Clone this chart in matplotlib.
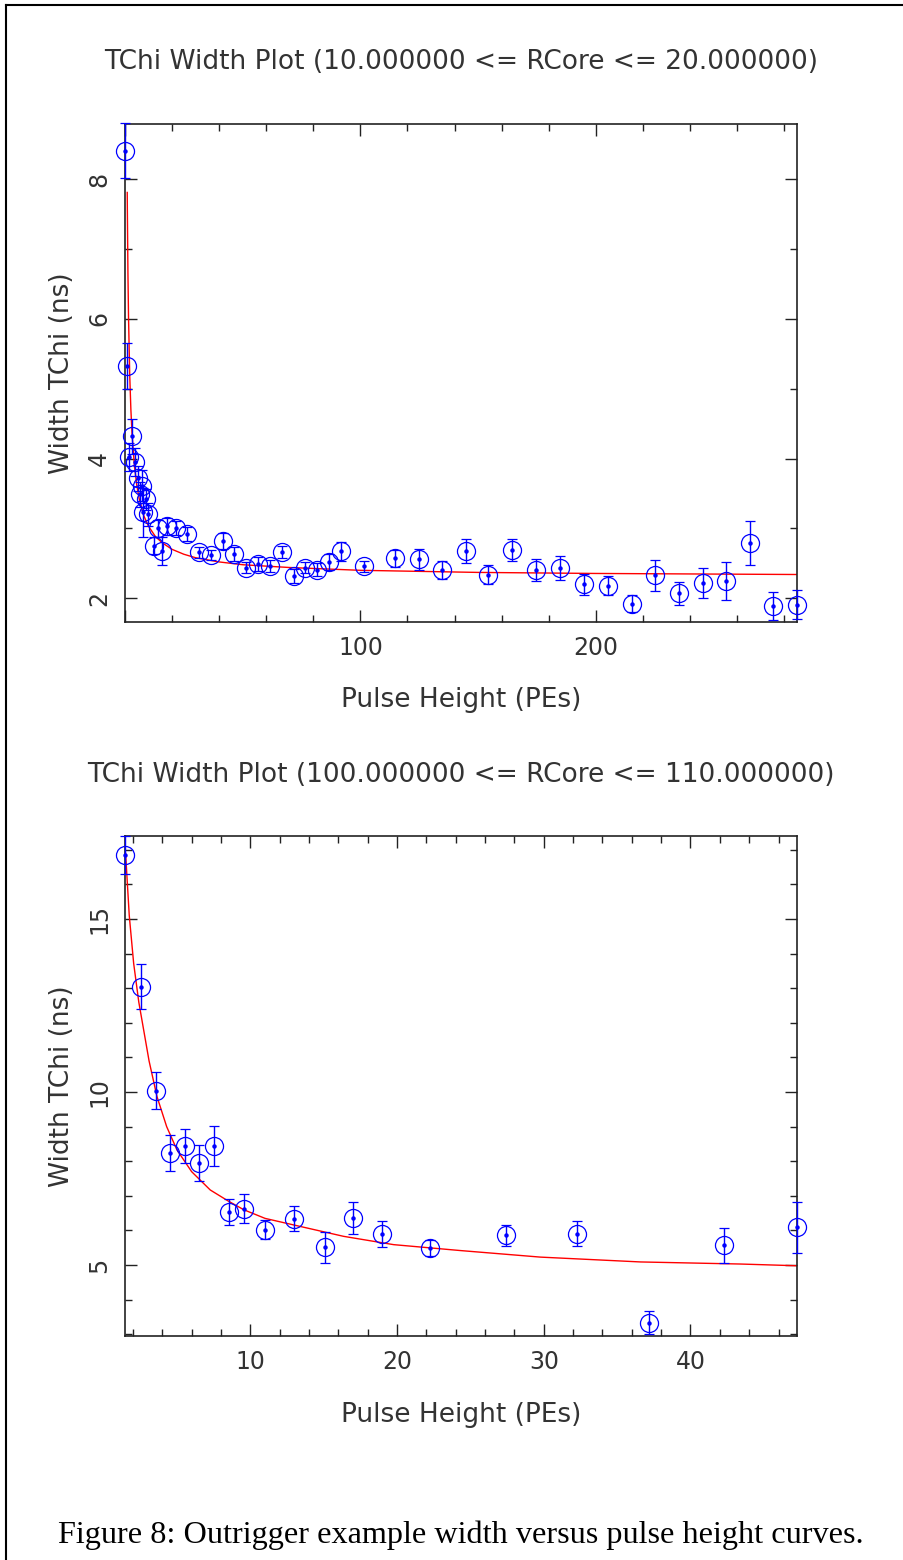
import matplotlib
matplotlib.use("Agg")
import matplotlib.pyplot as plt
from matplotlib.ticker import MultipleLocator, FuncFormatter
from matplotlib.lines import Line2D

# ---------------- data: top panel (10 <= RCore <= 20) ----------------
top_x = [0.0, 1.0, 1.7, 3.1, 4.2, 5.4, 6.4, 7.1, 7.7, 8.8, 9.9, 12.5, 13.9, 15.9,
         17.7, 21.7, 26.5, 31.5, 36.6, 41.6, 46.5, 51.5, 56.5, 61.4, 66.5, 71.6,
         76.6, 81.6, 86.5, 91.8, 101.7, 114.6, 124.7, 134.8, 144.7, 154.3, 164.4,
         174.6, 184.8, 195.0, 205.0, 215.2, 225.1, 235.2, 245.4, 255.2, 265.4,
         275.2, 285.5]
top_y = [8.41, 5.32, 4.02, 4.32, 3.95, 3.72, 3.49, 3.61, 3.23, 3.42, 3.20, 2.75,
         3.00, 2.68, 3.03, 3.00, 2.92, 2.66, 2.62, 2.82, 2.64, 2.44, 2.49, 2.46,
         2.66, 2.32, 2.44, 2.41, 2.52, 2.67, 2.46, 2.57, 2.56, 2.41, 2.68, 2.34,
         2.69, 2.40, 2.43, 2.20, 2.18, 1.92, 2.33, 2.07, 2.22, 2.25, 2.79, 1.89,
         1.91]
top_err = [0.40, 0.33, 0.20, 0.25, 0.20, 0.18, 0.18, 0.22, 0.35, 0.15, 0.17, 0.12,
           0.12, 0.20, 0.12, 0.10, 0.10, 0.08, 0.07, 0.12, 0.10, 0.08, 0.10, 0.09,
           0.09, 0.10, 0.08, 0.09, 0.12, 0.13, 0.08, 0.12, 0.15, 0.13, 0.17, 0.14,
           0.16, 0.16, 0.17, 0.15, 0.14, 0.12, 0.22, 0.16, 0.22, 0.27, 0.31, 0.20,
           0.21]
top_fit_x = [0.95, 1.0, 1.25, 1.5, 2.0, 2.5, 3.0, 4.0, 5.0, 6.0, 8.0, 10.0, 13.0,
             16.0, 20.0, 25.0, 30.0, 40.0, 50.0, 70.0, 100.0, 150.0, 200.0, 285.5]
top_fit_y = [7.81, 7.57, 6.65, 6.02, 5.20, 4.70, 4.35, 3.90, 3.62, 3.43, 3.18, 3.03,
             2.88, 2.79, 2.70, 2.63, 2.58, 2.52, 2.48, 2.44, 2.40, 2.37, 2.355, 2.34]

# ---------------- data: bottom panel (100 <= RCore <= 110) ----------------
bot_x = [1.46, 2.55, 3.57, 4.55, 5.57, 6.52, 7.55, 8.57, 9.59, 11.0, 13.0, 15.07,
         16.97, 18.98, 22.27, 27.45, 32.25, 37.2, 42.3, 47.26]
bot_y = [16.85, 13.05, 10.04, 8.25, 8.44, 7.95, 8.44, 6.54, 6.63, 6.02, 6.34, 5.51,
         6.37, 5.90, 5.49, 5.86, 5.91, 3.34, 5.57, 6.09]
bot_err = [0.55, 0.66, 0.54, 0.52, 0.49, 0.51, 0.58, 0.38, 0.41, 0.27, 0.36, 0.46,
           0.46, 0.37, 0.23, 0.31, 0.37, 0.33, 0.50, 0.73]
bot_fit_x = [1.5, 1.75, 2.05, 2.4, 2.73, 3.1, 3.64, 4.3, 5.0, 6.0, 7.27, 8.5, 9.55,
             11.0, 12.95, 16.36, 19.77, 24.3, 29.77, 36.6, 43.4, 47.26]
bot_fit_y = [16.9, 15.1, 13.72, 12.6, 11.8, 10.9, 9.87, 9.0, 8.33, 7.7, 7.17, 6.85,
             6.6, 6.35, 6.16, 5.83, 5.59, 5.42, 5.23, 5.09, 5.03, 4.98]

top_title = "TChi Width Plot (10.000000 <= RCore <= 20.000000)"
bot_title = "TChi Width Plot (100.000000 <= RCore <= 110.000000)"
xlabel = "Pulse Height (PEs)"
ylabel = "Width TChi (ns)"
caption = "Figure 8: Outrigger example width versus pulse height curves."

plt.rcParams['font.family'] = ['DejaVu Sans']

W, H = 904, 1560
fig = plt.figure(figsize=(W / 100, H / 100), dpi=100)
fig.patch.set_facecolor('white')


def fx(px):
    return px / W


def fy(py):
    return 1 - py / H


def no_edge_fmt(lo):
    def f(v, pos):
        if abs(v - lo) < 1e-9:
            return ""
        return "%g" % v
    return FuncFormatter(f)


def panel(rect, xs, ys, es, fxs, fys, xlim, ylim, xmaj, xmin, ymaj, ymin, title, title_y):
    ax = fig.add_axes(rect)
    ax.plot(fxs, fys, color='red', lw=1.0, zorder=2)
    cont = ax.errorbar(xs, ys, yerr=es, fmt='o', mfc='none', mec='blue', ms=13,
                       mew=0.9, ecolor='blue', elinewidth=1.0, capsize=3.5,
                       capthick=1.0, zorder=3)
    cont.lines[0].set_clip_on(False)
    for art in cont.lines[1]:
        art.set_clip_on(False)
    for art in cont.lines[2]:
        art.set_clip_on(False)
    ax.plot(xs, ys, 'o', ms=2.2, color='blue', zorder=4, clip_on=False)
    ax.set_xlim(*xlim)
    ax.set_ylim(*ylim)
    ax.xaxis.set_major_locator(MultipleLocator(xmaj))
    ax.xaxis.set_minor_locator(MultipleLocator(xmin))
    ax.xaxis.set_major_formatter(no_edge_fmt(xlim[0]))
    ax.yaxis.set_major_locator(MultipleLocator(ymaj))
    ax.yaxis.set_minor_locator(MultipleLocator(ymin))
    ax.tick_params(which='both', direction='in', top=True, right=True,
                   colors='#222222', labelcolor='#333333', width=1.0)
    ax.tick_params(which='major', length=8.5, labelsize=17, pad=10)
    ax.tick_params(which='minor', length=4.7)
    for lab in ax.get_yticklabels():
        lab.set_rotation(90)
        lab.set_va('center')
    for sp in ax.spines.values():
        sp.set_color('#222222')
        sp.set_linewidth(1.2)
    ax.set_xlabel(xlabel, fontsize=19, color='#333333', va='center')
    ax.xaxis.set_label_coords(0.5, -0.157)
    ax.set_ylabel(ylabel, fontsize=19, color='#333333', va='center', ha='center')
    ax.yaxis.set_label_coords(-0.094, 0.5)
    fig.text(fx(461), fy(title_y), title, fontsize=19, color='#333333',
             ha='center', va='center')
    return ax


ax1 = panel([fx(125), fy(622), (797 - 125) / W, (622 - 124) / H],
            top_x, top_y, top_err, top_fit_x, top_fit_y,
            (0, 285.5), (1.66, 8.79), 100, 20, 2, 1, top_title, 62)
ax2 = panel([fx(125), fy(1336), (797 - 125) / W, (1336 - 836) / H],
            bot_x, bot_y, bot_err, bot_fit_x, bot_fit_y,
            (1.46, 47.26), (2.95, 17.40), 10, 2, 5, 1, bot_title, 775)

fig.text(fx(461), fy(1535), caption, fontsize=23.2, family=['Liberation Serif', 'DejaVu Serif'],
         ha='center', va='center', color='black')

# page frame (left and top edges)
fig.add_artist(Line2D([fx(6), fx(6)], [0, fy(5)], color='black', lw=1.5, transform=fig.transFigure))
fig.add_artist(Line2D([fx(6), 1], [fy(5), fy(5)], color='black', lw=1.5, transform=fig.transFigure))

fig.savefig('out.png', dpi=100, facecolor='white')
